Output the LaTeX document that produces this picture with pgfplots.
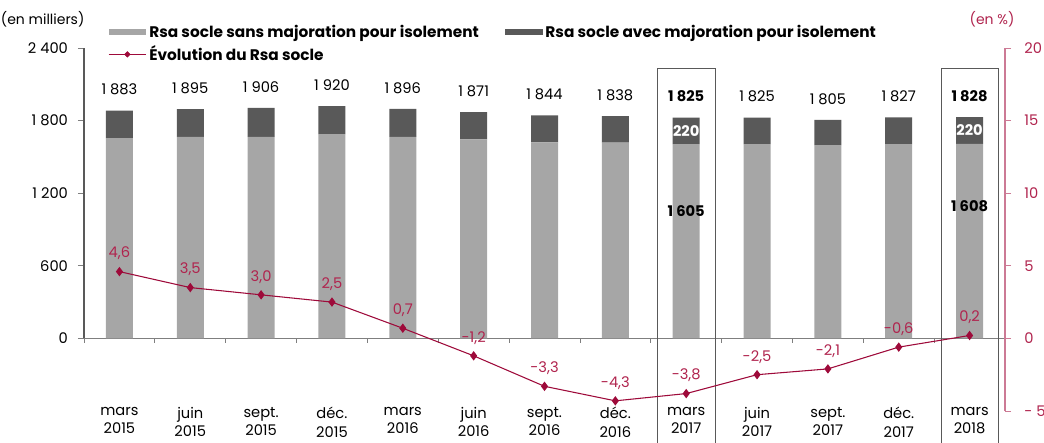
\documentclass[border=0pt]{standalone}
\usepackage{fontspec}
\setmainfont{Poppins}
\usepackage{pgfplots}
\pgfplotsset{compat=1.18}
\usepackage{pgfplotstable}
\definecolor{barlight}{HTML}{A6A6A6}
\definecolor{bardark}{HTML}{595959}
\definecolor{redline}{HTML}{9E0A3A}
\definecolor{redtext}{HTML}{B0244E}
\definecolor{redaxis}{HTML}{CC7A95}
\definecolor{axisgray}{HTML}{7F7F7F}
\definecolor{boxgray}{HTML}{595959}

\pgfplotstableread{
x sans avec
0 1655 228
1 1666 229
2 1666 240
3 1689 231
4 1666 230
5 1645 226
6 1620 224
7 1617 221
8 1605 220
9 1606 219
10 1597 208
11 1606 221
12 1608 220
}\bars

\pgfplotstableread[col sep=comma]{
x,total,lab
0,1883,1 883
1,1895,1 895
2,1906,1 906
3,1920,1 920
4,1896,1 896
5,1871,1 871
6,1844,1 844
7,1838,1 838
9,1825,1 825
10,1805,1 805
11,1827,1 827
}\totals

\pgfplotstableread[col sep=comma]{
x,total,lab
8,1825,1 825
12,1828,1 828
}\totalsbold

\pgfplotstableread[col sep=comma]{
x,y,lab
8,1715,220
12,1718,220
}\insidedark

\pgfplotstableread[col sep=comma]{
x,y,lab
8,1050,1 605
12,1095,1 608
}\insidelight

\pgfplotstableread{
x evo lab
0 4.6 4,6
1 3.5 3,5
2 3.0 3,0
3 2.5 2,5
4 0.7 0,7
5 -1.2 -1,2
6 -3.3 -3,3
7 -4.3 -4,3
8 -3.8 -3,8
9 -2.5 -2,5
10 -2.1 -2,1
11 -0.6 -0,6
12 0.2 0,2
}\evo

\pgfplotsset{
  lightbarlegend/.style={legend image code/.code={\fill[barlight] (0pt,-2.2pt) rectangle (28pt,2.2pt);}},
  darkbarlegend/.style={legend image code/.code={\fill[bardark] (0pt,-2.2pt) rectangle (28pt,2.2pt);}},
  evolegend/.style={legend image code/.code={\draw[redline, line width=0.8pt] (0pt,0pt) -- (28pt,0pt);
     \fill[redline] (14pt,2.1pt) -- (16.1pt,0pt) -- (14pt,-2.1pt) -- (11.9pt,0pt) -- cycle;}},
  labelonly/.style={only marks, mark=*, mark size=0pt,
     mark options={draw opacity=0, fill opacity=0},
     scatter/use mapped color={draw opacity=0, fill opacity=0},
     nodes near coords, point meta=explicit symbolic},
}

\begin{document}
\begin{tikzpicture}
\useasboundingbox (-63pt,-23.25pt) rectangle (720pt,308.25pt);
% ---------- bars (left axis) ----------
\begin{axis}[
  at={(0pt,0pt)}, anchor=south west, scale only axis,
  width=690.75pt, height=272.25pt,
  xmin=-0.5, xmax=12.5, ymin=-600, ymax=2400,
  ybar stacked, bar width=20.25pt,
  axis line style={draw=none},
  clip=false,
  font=\fontsize{11}{14}\selectfont,
  xtick={0,...,12},
  xticklabels={{mars\\2015},{juin\\2015},{sept.\\2015},{déc.\\2015},{mars\\2016},{juin\\2016},{sept.\\2016},{déc.\\2016},{mars\\2017},{juin\\2017},{sept.\\2017},{déc.\\2017},{mars\\2018}},
  xticklabel style={align=center, anchor=north, yshift=11pt, text=black},
  xtick style={draw=none},
  ytick={0,600,1200,1800,2400},
  yticklabels={0,600,1 200,1 800,2 400},
  ytick pos=left, tick align=outside, major tick length=4.5pt,
  ytick style={axisgray, line width=0.6pt},
  yticklabel style={xshift=-4pt},
  legend columns=2,
  legend style={at={(0.026,1.0716)}, anchor=north west, draw=none, fill=none,
    font=\fontsize{11.5}{13}\selectfont\bfseries,
    /tikz/every even column/.append style={column sep=18pt},
    row sep=1pt, inner sep=0pt},
  legend cell align=left,
]
\addplot[fill=barlight, draw=none, lightbarlegend]
  table[x=x, y=sans]{\bars};
\addlegendentry{Rsa socle sans majoration pour isolement}
\addplot[fill=bardark, draw=none, darkbarlegend]
  table[x=x, y=avec]{\bars};
\addlegendentry{Rsa socle avec majoration pour isolement}
\addlegendimage{evolegend}
\addlegendentry{Évolution du Rsa socle}
% axis lines
\draw[axisgray, line width=0.8pt] (axis cs:-0.5,0) -- (axis cs:12.5,0);
\draw[axisgray!70!black, line width=0.8pt] (axis cs:-0.5,0) -- (axis cs:-0.5,2400);
\pgfplotsinvokeforeach{-0.5,0.5,1.5,2.5,3.5,4.5,5.5,6.5,7.5,8.5,9.5,10.5,11.5}{
  \draw[axisgray, line width=0.6pt] (axis cs:#1,0) -- ++(0pt,-3.5pt);
}
\end{axis}
% ---------- labels & boxes (left scale) ----------
\begin{axis}[
  at={(0pt,0pt)}, anchor=south west, scale only axis,
  width=690.75pt, height=272.25pt,
  xmin=-0.5, xmax=12.5, ymin=-600, ymax=2400,
  hide axis, clip=false,
  font=\fontsize{11}{13}\selectfont,
]
\addplot[labelonly,
  nodes near coords style={anchor=center, yshift=15.75pt, text=black, opacity=1, text opacity=1}]
  table[x=x, y=total, meta=lab]{\totals};
\addplot[labelonly,
  nodes near coords style={anchor=center, yshift=15.75pt, text=black, opacity=1, text opacity=1, font=\fontsize{11}{13}\selectfont\bfseries}]
  table[x=x, y=total, meta=lab]{\totalsbold};
\addplot[labelonly,
  nodes near coords style={anchor=center, text=white, opacity=1, text opacity=1, font=\fontsize{11}{13}\selectfont\bfseries}]
  table[x=x, y=y, meta=lab]{\insidedark};
\addplot[labelonly,
  nodes near coords style={anchor=center, text=black, opacity=1, text opacity=1, font=\fontsize{11}{13}\selectfont\bfseries}]
  table[x=x, y=y, meta=lab]{\insidelight};
\draw[boxgray, line width=0.7pt] (axis cs:7.6,2227) rectangle (axis cs:8.41,-870);
\draw[boxgray, line width=0.7pt] (axis cs:11.61,2227) rectangle (axis cs:12.41,-870);
\end{axis}
\node[font=\fontsize{10.5}{12}\selectfont, anchor=center] at (-31pt,294pt) {(en milliers)};
\node[font=\fontsize{10.5}{12}\selectfont, text=redtext, anchor=center] at (681pt,294pt) {(en \%)};
% ---------- evolution (right axis) ----------
\begin{axis}[
  at={(0pt,0pt)}, anchor=south west, scale only axis,
  width=690.75pt, height=272.25pt,
  xmin=-0.5, xmax=12.5, ymin=-5, ymax=20,
  axis x line=none,
  axis y line*=right,
  y axis line style={redaxis, line width=1.1pt},
  ytick={-5,0,5,10,15,20},
  yticklabels={- 5,0,5,10,15,20},
  tick align=outside, major tick length=4.5pt,
  ytick style={redaxis, line width=0.6pt},
  yticklabel style={text=redtext, xshift=6.5pt},
  font=\fontsize{11}{13}\selectfont,
  clip=false,
]
\addplot[redline, line width=0.8pt, mark=diamond*, mark size=2.9pt,
  mark options={solid, fill=redline, draw=redline},
  nodes near coords, point meta=explicit symbolic,
  nodes near coords style={anchor=center, yshift=13.5pt, text=redtext, font=\fontsize{11}{13}\selectfont}]
  table[x=x, y=evo, meta=lab]{\evo};
\end{axis}
\end{tikzpicture}
\end{document}
